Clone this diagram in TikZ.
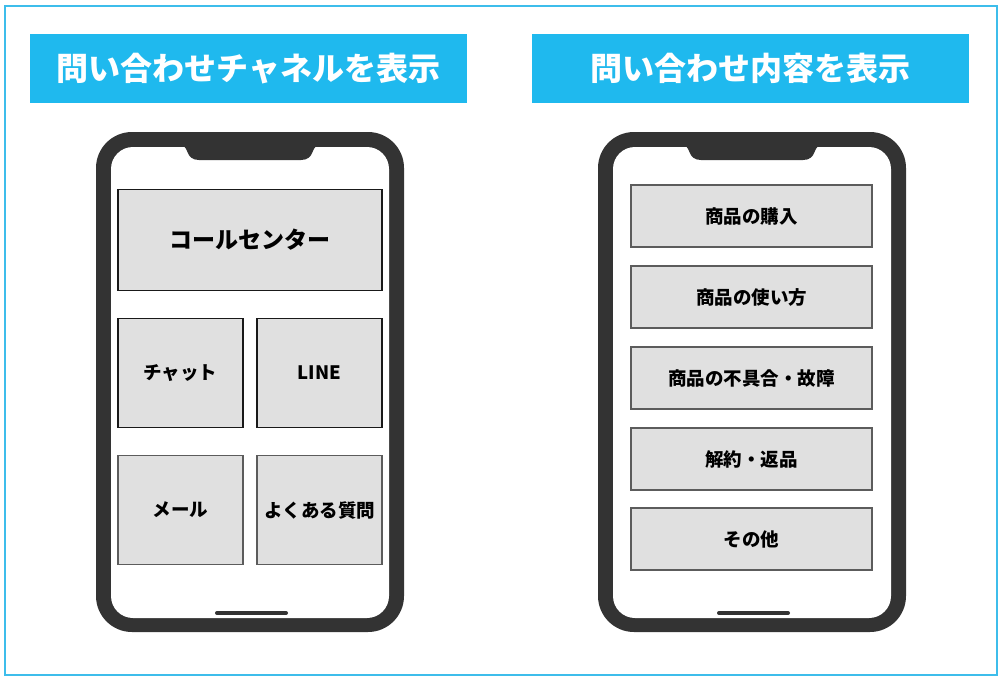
\documentclass[tikz,border=0pt]{standalone}
\usepackage{fontspec}
\usepackage{xcolor}
\usepackage{tikz}
\usetikzlibrary{positioning}
\newfontfamily\jpfont{Noto Sans CJK JP}
\definecolor{FrameBlue}{HTML}{3DBDEB}
\definecolor{TitleBlue}{HTML}{1FB9EE}
\definecolor{PhoneDark}{HTML}{333333}
\definecolor{BoxFill}{HTML}{E0E0E0}
\definecolor{BoxLine}{HTML}{5C5C5C}

\tikzset{
  titlebar/.style={fill=TitleBlue, text=white, inner sep=0pt,
    minimum width=437pt, minimum height=69pt,
    font=\jpfont\bfseries\fontsize{32}{32}\selectfont},
  chbox/.style={draw=black!90, fill=BoxFill, line width=1.6pt, inner sep=0pt, outer sep=0pt,
    minimum width=125pt, minimum height=109pt,
    font=\jpfont\bfseries\fontsize{18.5}{18.5}\selectfont},
  graybox/.style={chbox, draw=BoxLine},
  topicbox/.style={draw=BoxLine, fill=BoxFill, line width=1.6pt, inner sep=0pt, outer sep=0pt,
    minimum width=241pt, minimum height=62pt,
    font=\jpfont\bfseries\fontsize{18.5}{18.5}\selectfont}
}

\begin{document}
\begin{tikzpicture}[x=1pt, y=-1pt]
      \useasboundingbox (0,0) rectangle (1002,678);
      \fill[white] (0,0) rectangle (1002,678);
      \draw[FrameBlue, line width=1.8pt] (5,6) rectangle (997,675);

      % headings
      \node[titlebar] (titleL) at (248.5,68.5) {問い合わせチャネルを表示};
      \node[titlebar] (titleR) at (750.5,68.5) {問い合わせ内容を表示};

      % phone bodies
      \foreach \px in {0,502}{
        \fill[PhoneDark, rounded corners=36pt] (96+\px,132) rectangle (404+\px,632);
        \fill[white, rounded corners=22pt] (111+\px,147) rectangle (389+\px,618);
        \fill[PhoneDark] (182+\px,146) .. controls (189+\px,146) and (185+\px,160) .. (199+\px,160)
          -- (301+\px,160) .. controls (315+\px,160) and (311+\px,146) .. (318+\px,146) -- cycle;
        \draw[PhoneDark, line width=4pt, line cap=round] (217+\px,613) -- (286+\px,613);
      }

      % channels
      \node[chbox, minimum width=264pt, minimum height=101pt,
            font=\jpfont\bfseries\fontsize{23}{23}\selectfont] (call) at (250,240) {コールセンター};
      \node[chbox, below right=28pt and 0pt of call.south west] (chat) {チャット};
      \node[chbox, below left=28pt and 0pt of call.south east] (line) {LINE};
      \node[graybox, below=28pt of chat] (mail) {メール};
      \node[graybox, below=28pt of line] (faq) {よくある質問};

      % topics
      \node[topicbox] (buy) at (751.5,216) {商品の購入};
      \node[topicbox, below=19pt of buy] (usage) {商品の使い方};
      \node[topicbox, below=19pt of usage] (fault) {商品の不具合・故障};
      \node[topicbox, below=19pt of fault] (cancel) {解約・返品};
      \node[topicbox, below=18pt of cancel] (other) {その他};
    \end{tikzpicture}
\end{document}
